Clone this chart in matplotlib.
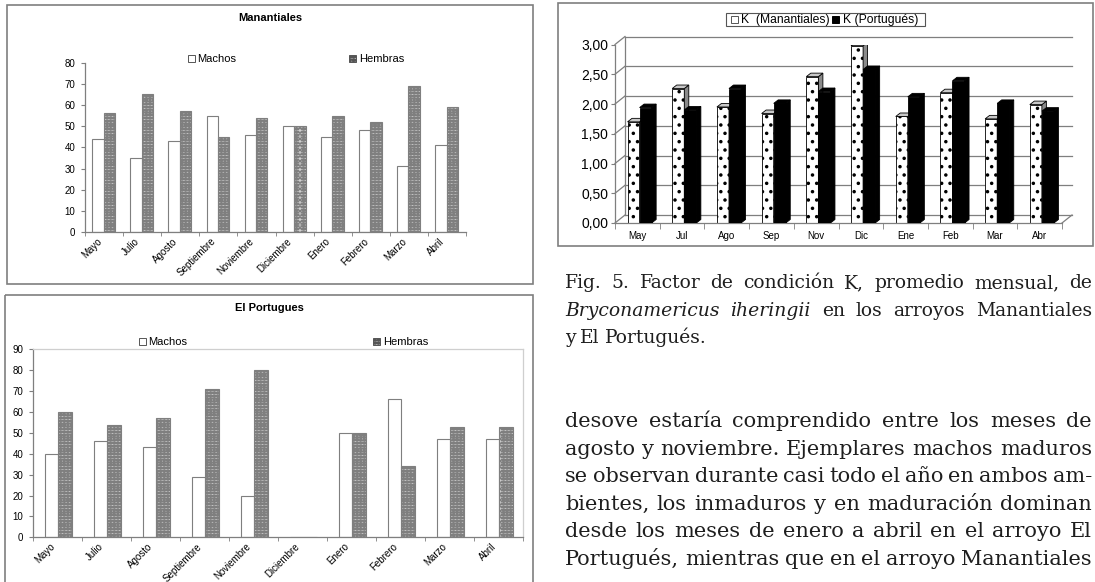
import numpy as np
import matplotlib.pyplot as plt
from matplotlib.patches import Rectangle, Polygon

plt.rcParams['hatch.linewidth'] = 1.3
plt.rcParams['hatch.color'] = 'black'

W, H = 1095, 582

# Porcentaje de machos y hembras por mes
meses = ["Mayo", "Julio", "Agosto", "Septiembre", "Noviembre",
         "Diciembre", "Enero", "Febrero", "Marzo", "Abril"]
man_machos = [44, 35, 43, 55, 46, 50, 45, 48, 31, 41]
man_hembras = [56, 65, 57, 45, 54, 50, 55, 52, 69, 59]
por_machos = [40, 46, 43, 29, 20, 0, 50, 66, 47, 47]
por_hembras = [60, 54, 57, 71, 80, 0, 50, 34, 53, 53]

# Factor de condicion K, promedio mensual
meses_k = ["May", "Jul", "Ago", "Sep", "Nov", "Dic", "Ene", "Feb", "Mar", "Abr"]
k_man = [1.70, 2.26, 1.95, 1.84, 2.46, 2.98, 1.79, 2.19, 1.75, 1.99]
k_por = [1.94, 1.90, 2.26, 2.01, 2.21, 2.58, 2.12, 2.39, 2.01, 1.88]

caption = [
    [("Fig.", "normal"), ("5.", "normal"), ("Factor", "normal"), ("de", "normal"),
     ("condición", "normal"), ("K,", "normal"), ("promedio", "normal"),
     ("mensual,", "normal"), ("de", "normal")],
    [("Bryconamericus", "italic"), ("iheringii", "italic"), ("en", "normal"),
     ("los", "normal"), ("arroyos", "normal"), ("Manantiales", "normal")],
    [("y", "normal"), ("El", "normal"), ("Portugués.", "normal")],
]
body = [
    "desove estaría comprendido entre los meses de",
    "agosto y noviembre. Ejemplares machos maduros",
    "se observan durante casi todo el año en ambos am-",
    "bientes, los inmaduros y en maduración dominan",
    "desde los meses de enero a abril en el arroyo El",
    "Portugués, mientras que en el arroyo Manantiales",
]

SANS = "Liberation Sans"
GRAY = "#7f7f7f"
DENSE = "......"


def px_rect(x0, y0, x1, y1):
    return [x0 / W, 1 - y1 / H, (x1 - x0) / W, (y1 - y0) / H]


def thick_hatch(patches, lw=3.2):
    for p in patches:
        if hasattr(p, "set_hatch_linewidth"):
            p.set_hatch_linewidth(lw)


fig = plt.figure(figsize=(W / 100, H / 100), dpi=100)
page = fig.add_axes([0, 0, 1, 1])
page.set_xlim(0, W)
page.set_ylim(H, 0)
page.axis("off")

# marcos de los tres graficos
page.add_patch(Rectangle((7, 5), 526, 279, fill=False, ec=GRAY, lw=1.2))
page.add_patch(Rectangle((5, 295), 528, 300, fill=False, ec=GRAY, lw=1.2, clip_on=False))
page.add_patch(Rectangle((558, 3), 535, 243, fill=False, ec=GRAY, lw=1.2))


def sex_panel(rect, machos, hembras, ymax, title, title_xy, leg_y, leg_x, center, width, lab_off, boxed):
    ax = fig.add_axes(px_rect(*rect))
    ax.set_facecolor("none")
    x = np.arange(len(meses))
    ax.bar(x + center - width / 2, machos, width, color="white", edgecolor=GRAY, linewidth=0.8)
    hb = ax.bar(x + center + width / 2, hembras, width, color="white", edgecolor=GRAY,
                linewidth=0.8, hatch=DENSE)
    thick_hatch(hb)
    ax.set_xlim(0, len(meses))
    ax.set_ylim(0, ymax)
    ax.set_yticks(np.arange(0, ymax + 1, 10))
    ax.set_yticklabels([str(v) for v in range(0, ymax + 1, 10)], fontsize=7, family=SANS)
    ax.set_xticks(x + lab_off)
    ax.set_xticklabels(meses, rotation=45, ha="right", va="top", rotation_mode="anchor",
                       fontsize=7, family=SANS)
    ax.set_xticks(np.arange(len(meses) + 1), minor=True)
    ax.tick_params(axis="x", which="major", length=0, pad=3)
    ax.tick_params(axis="x", which="minor", length=3, color=GRAY)
    ax.tick_params(axis="y", length=3, color=GRAY, pad=4)
    for s in ("left", "bottom"):
        ax.spines[s].set_color(GRAY)
        ax.spines[s].set_linewidth(0.9)
    for s in ("top", "right"):
        if boxed:
            ax.spines[s].set_color("#cfcfcf")
            ax.spines[s].set_linewidth(0.9)
        else:
            ax.spines[s].set_visible(False)
    page.text(title_xy[0], title_xy[1], title, ha="center", va="center",
              fontsize=8, fontweight="bold", family=SANS)
    page.add_patch(Rectangle((leg_x[0], leg_y - 3.5), 7, 7, fc="white", ec="#555555", lw=0.7))
    page.text(leg_x[0] + 10, leg_y, "Machos", va="center", fontsize=8, family=SANS)
    lp = page.add_patch(Rectangle((leg_x[1], leg_y - 3.5), 7, 7, fc="white", ec="#555555", lw=0.7,
                                  hatch=DENSE))
    thick_hatch([lp])
    page.text(leg_x[1] + 10, leg_y, "Hembras", va="center", fontsize=8, family=SANS)
    return ax


sex_panel((85, 62.7, 466, 232), man_machos, man_hembras, 80, "Manantiales", (270, 18),
          58.7, (187.5, 349), 0.49, 0.3, 0.3, False)
sex_panel((32.8, 349.3, 523, 537.3), por_machos, por_hembras, 90, "El Portugues", (269, 308),
          341.7, (138.5, 373), 0.52, 0.28, 0.34, True)

# grafico de K con perspectiva
ax3 = fig.add_axes(px_rect(615, 44.5, 1062, 223))
ax3.set_facecolor("none")
n = len(meses_k)
ax3.set_xlim(0, n)
ax3.set_ylim(0, 3)
dxw, dyw = 10 / 44.7, 8 / 59.5
dxb, dyb = 4.5 / 44.7, 3.5 / 59.5
grid = np.arange(0, 3.01, 0.5)
for v in grid:
    ax3.plot([0, dxw], [v, v + dyw], color=GRAY, lw=0.9, clip_on=False, zorder=1)
    ax3.plot([dxw, n + dxw], [v + dyw, v + dyw], color=GRAY, lw=0.9, clip_on=False, zorder=1)
ax3.plot([dxw, dxw], [dyw, 3 + dyw], color=GRAY, lw=0.9, clip_on=False, zorder=1)
ax3.plot([n, n + dxw], [0, dyw], color=GRAY, lw=0.9, clip_on=False, zorder=1)

x = np.arange(n)
bw = 0.27
xm = x + 0.28
xp = xm + bw
ax3.bar(xm, k_man, bw, align="edge", color="white", edgecolor="black", linewidth=0.6,
        hatch="..", zorder=2)
for xi, v in zip(xm, k_man):
    ax3.add_patch(Polygon([(xi + bw, 0), (xi + bw + dxb, dyb), (xi + bw + dxb, v + dyb), (xi + bw, v)],
                          fc="#8a8a8a", ec="black", lw=0.6, zorder=2))
    ax3.add_patch(Polygon([(xi, v), (xi + dxb, v + dyb), (xi + bw + dxb, v + dyb), (xi + bw, v)],
                          fc="#c8c8c8", ec="black", lw=0.6, zorder=2))
ax3.bar(xp, k_por, bw, align="edge", color="black", edgecolor="black", linewidth=0.6, zorder=3)
for xi, v in zip(xp, k_por):
    ax3.add_patch(Polygon([(xi + bw, 0), (xi + bw + dxb, dyb), (xi + bw + dxb, v + dyb), (xi + bw, v)],
                          fc="black", ec="black", lw=0.6, zorder=3))
    ax3.add_patch(Polygon([(xi, v), (xi + dxb, v + dyb), (xi + bw + dxb, v + dyb), (xi + bw, v)],
                          fc="black", ec="black", lw=0.6, zorder=3))

ax3.set_yticks(grid)
ax3.set_yticklabels([f"{v:.2f}".replace(".", ",") for v in grid], fontsize=10, family=SANS)
ax3.set_xticks(x + 0.5)
ax3.set_xticklabels(meses_k, fontsize=7, family=SANS)
ax3.set_xticks(np.arange(n + 1), minor=True)
ax3.tick_params(axis="x", which="major", length=0, pad=6)
ax3.tick_params(axis="x", which="minor", length=4, color=GRAY)
ax3.tick_params(axis="y", length=3, color=GRAY, pad=2)
for s in ("left", "bottom"):
    ax3.spines[s].set_color(GRAY)
    ax3.spines[s].set_linewidth(0.9)
for s in ("top", "right"):
    ax3.spines[s].set_visible(False)

# leyenda del grafico K
page.add_patch(Rectangle((726, 12.7), 199, 13.3, fill=False, ec="#555555", lw=0.8))
page.add_patch(Rectangle((730.6, 16), 7, 7, fc="white", ec="#555555", lw=0.7))
page.text(741, 19.5, "K  (Manantiales)", va="center", fontsize=8.7, family=SANS)
page.add_patch(Rectangle((831.5, 16), 7, 7, fc="black", ec="black", lw=0.7))
page.text(843, 19.5, "K (Portugués)", va="center", fontsize=8.7, family=SANS)

# texto justificado a la derecha de la figura
SERIF = "DejaVu Serif"
X0, X1 = 565, 1092
renderer = fig.canvas.get_renderer()


def put_line(words, y, fs, justify=True):
    texts = [page.text(0, y, w, fontsize=fs, family=SERIF, style=st, va="baseline", color="#1e1e1e")
             for w, st in words]
    widths = [t.get_window_extent(renderer=renderer).width for t in texts]
    if justify and len(texts) > 1:
        gap = max((X1 - X0 - sum(widths)) / (len(texts) - 1), fs * 0.3)
    else:
        gap = fs * 0.35
    xx = X0
    for t, w in zip(texts, widths):
        t.set_x(xx)
        xx += w + gap


for i, line in enumerate(caption):
    put_line(line, 288 + 27.5 * i, 13.5, justify=i < 2)
for i, line in enumerate(body):
    put_line([(w, "normal") for w in line.split()], 427 + 27.6 * i, 15)

fig.savefig("out.png", dpi=100)
